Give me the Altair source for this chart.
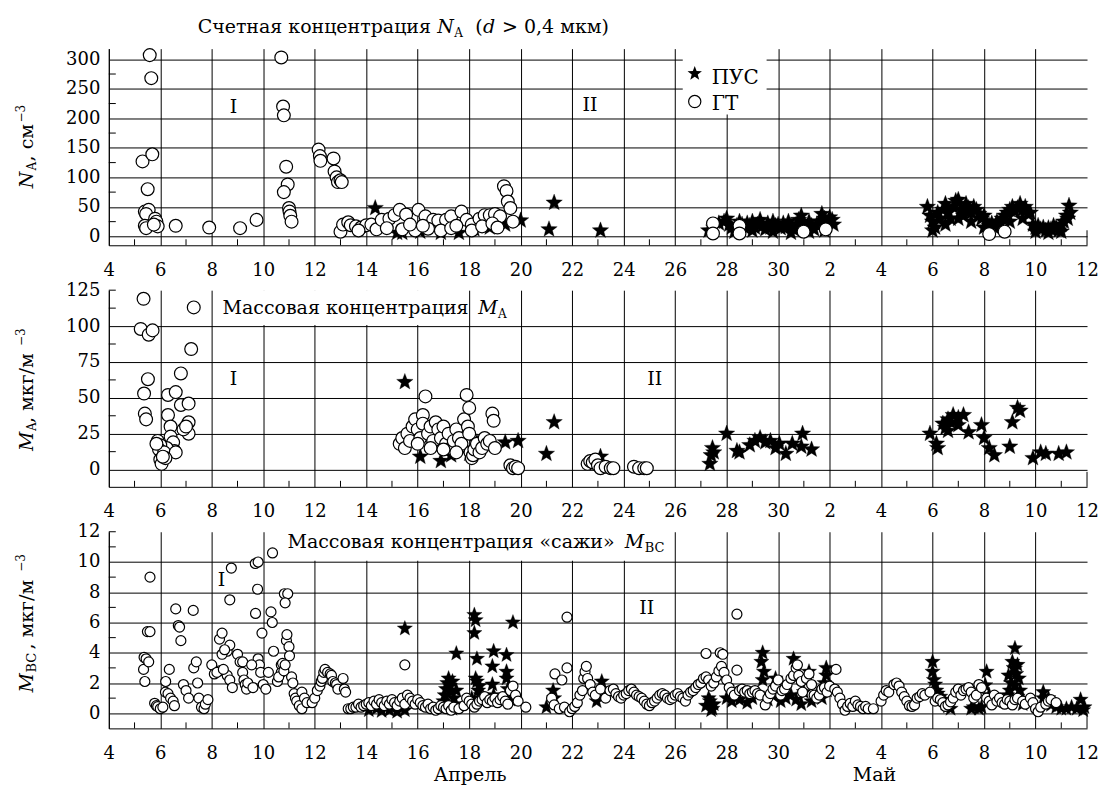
import altair as alt
import pandas as pd

FONT = "DejaVu Serif"
W, H = 980, 197
STAR = ("M0,-1L0.247,-0.34L0.951,-0.309L0.399,0.13L0.588,0.809L0,0.42"
        "L-0.588,0.809L-0.399,0.13L-0.951,-0.309L-0.247,-0.34Z")

# day numbering: April d -> d, May d -> 30 + d
x_major = list(range(4, 43, 2))
x_minor = list(range(5, 42, 2))

na_ticks = [0, 50, 100, 150, 200, 250, 300]
na_minor = [25, 75, 125, 175, 225, 275]
ma_ticks = [0, 25, 50, 75, 100, 125]
ma_minor = [12.5, 37.5, 62.5, 87.5, 112.5, 125]
bc_ticks = [0, 2, 4, 6, 8, 10, 12]
bc_minor = [1, 3, 5, 7, 9, 11, 12]

# ---- N_A (count concentration) ----
na_gt = [
    [5.31, 127], [5.59, 307], [5.65, 268], [5.69, 139], [5.51, 80], [5.4, 42], [5.55, 45],
    [5.45, 38], [5.4, 18], [5.45, 14], [5.8, 30], [5.85, 25], [5.9, 17], [5.75, 20],
    [6.6, 18], [7.9, 15], [9.1, 14], [9.74, 28], [10.7, 303], [10.77, 220], [10.8, 205],
    [10.89, 118], [10.95, 88], [10.8, 75], [11.0, 48], [11.02, 42], [11.05, 35], [11.1, 25],
    [12.15, 147], [12.2, 136], [12.22, 128], [12.73, 132], [12.77, 110], [12.85, 100],
    [12.9, 92], [13.0, 95], [13.05, 92],
    [13.0, 8], [13.1, 20], [13.3, 24], [13.4, 19], [13.6, 17], [13.8, 15], [14.0, 19],
    [14.2, 20], [14.4, 12], [14.6, 28], [14.9, 30], [15.1, 36], [15.3, 45], [15.55, 37],
    [16.03, 45], [16.3, 34], [16.6, 28], [16.8, 27], [17.1, 28], [17.3, 34], [17.7, 42],
    [17.9, 28], [18.1, 20], [18.4, 30], [18.6, 36], [18.8, 36], [19.0, 38], [19.2, 34],
    [19.35, 85], [19.45, 77], [19.5, 59], [19.6, 48], [19.7, 25],
    [15.4, 12], [15.9, 10], [16.4, 13], [16.9, 10], [17.3, 14], [18.1, 10], [18.5, 17],
    [13.7, 10], [14.8, 14], [15.7, 20], [16.2, 18], [17.5, 18], [18.9, 22], [19.1, 15],
    [27.47, 22], [27.47, 5], [28.5, 18], [28.5, 5], [30.99, 8], [31.85, 12],
    [38.2, 4], [38.8, 8],
]
na_pus = [
    [14.35, 48], [15.2, 6], [15.4, 6], [16.1, 8], [16.9, 6], [17.6, 6], [18.2, 12],
    [18.8, 15], [19.4, 20], [20.0, 27], [21.1, 12], [21.3, 57], [23.1, 10],
    [27.3, 10], [27.5, 15], [27.7, 22], [27.9, 25], [28.0, 30], [28.1, 20], [28.2, 15],
    [28.4, 18], [28.5, 25], [28.6, 20], [28.7, 15], [28.8, 22], [28.9, 18], [29.0, 25],
    [29.1, 15], [29.2, 20], [29.3, 28], [29.4, 18], [29.5, 12], [29.6, 22], [29.7, 15],
    [29.8, 25], [29.9, 18], [30.0, 20], [30.1, 14], [30.2, 22], [30.3, 16], [30.4, 25],
    [30.5, 18], [30.6, 12], [30.7, 20], [30.8, 28], [30.9, 35], [31.0, 22], [31.1, 15],
    [31.2, 25], [31.3, 18], [31.4, 12], [31.5, 20], [31.6, 25], [31.7, 38], [31.8, 30],
    [31.9, 22], [32.0, 32], [32.1, 28], [32.15, 20], [28.3, 8], [29.0, 10], [29.8, 8],
    [30.5, 6], [31.2, 8], [31.8, 10],
    [35.8, 50], [35.9, 35], [36.0, 25], [36.1, 15], [36.2, 40], [36.3, 30], [36.4, 45],
    [36.5, 55], [36.6, 40], [36.7, 30], [36.8, 50], [36.9, 60], [37.0, 62], [37.1, 45],
    [37.2, 35], [37.3, 55], [37.4, 48], [37.5, 40], [37.6, 50], [37.7, 45], [37.8, 38],
    [37.9, 30], [38.0, 35], [38.1, 25], [38.2, 18], [38.3, 22], [38.4, 15], [38.5, 25],
    [38.6, 20], [38.7, 30], [38.8, 35], [38.9, 40], [39.0, 45], [39.1, 50], [39.2, 42],
    [39.3, 48], [39.4, 55], [39.5, 45], [39.6, 50], [39.7, 38], [39.8, 40], [39.9, 20],
    [40.0, 15], [40.1, 18], [40.2, 12], [40.3, 15], [40.4, 10], [40.5, 14], [40.6, 12],
    [40.7, 18], [40.8, 15], [40.9, 10], [41.0, 20], [41.1, 25], [41.2, 35], [41.3, 52],
    [41.35, 40], [41.25, 30], [36.0, 10], [36.5, 20], [37.0, 30], [37.5, 25], [38.0, 15],
    [39.0, 25], [39.5, 30], [40.0, 8], [40.5, 6], [41.0, 8],
]

# ---- M_A (mass concentration) ----
ma_gt = [
    [5.35, 119], [5.24, 98], [5.55, 94], [5.7, 97], [7.3, 113], [7.2, 84], [5.52, 63],
    [5.37, 53], [5.4, 39], [5.45, 35], [6.8, 67], [6.3, 52], [6.6, 54], [6.3, 38],
    [6.8, 45], [7.1, 46], [7.1, 33], [7.1, 25], [6.4, 30], [6.4, 23], [6.5, 19],
    [6.55, 13], [6.25, 15], [5.9, 20], [6.0, 17], [5.95, 14], [6.0, 7], [6.05, 4],
    [6.15, 12], [6.6, 12], [6.9, 28], [7.0, 30], [6.2, 8], [5.85, 18], [6.1, 9],
    [15.3, 18], [15.4, 22], [15.5, 15], [15.6, 25], [15.7, 20], [15.8, 30], [15.9, 35],
    [16.0, 28], [16.1, 22], [16.2, 38], [16.3, 51], [16.2, 32], [16.4, 25], [16.5, 30],
    [16.6, 20], [16.7, 33], [16.8, 28], [16.9, 22], [17.0, 30], [17.1, 18], [17.2, 25],
    [17.3, 15], [17.4, 20], [17.5, 28], [17.6, 22], [17.7, 18], [17.8, 35], [17.9, 52],
    [18.0, 43], [17.95, 30], [18.0, 25], [18.05, 12], [18.1, 8], [18.15, 10], [18.2, 14],
    [18.3, 18], [18.4, 12], [18.5, 15], [18.6, 22], [18.7, 18], [18.8, 20], [18.9, 39],
    [18.95, 34], [19.0, 15], [17.5, 12], [16.5, 15], [17.0, 14], [16.0, 18],
    [19.6, 3], [19.7, 1], [19.8, 2], [19.9, 1],
    [22.6, 4], [22.7, 6], [22.8, 5], [22.9, 7], [23.0, 3], [23.1, 1], [23.3, 2],
    [23.5, 1], [23.6, 1], [24.4, 2], [24.6, 1], [24.8, 1], [24.9, 1],
]
ma_pus = [
    [15.5, 61], [16.1, 9], [16.9, 6], [17.3, 10], [18.0, 11], [18.3, 19], [19.4, 19],
    [19.9, 20], [21.0, 11], [21.3, 33], [23.1, 9], [27.35, 4], [27.4, 10], [27.45, 15],
    [27.5, 12], [28.0, 25], [28.4, 13], [28.5, 12], [28.9, 17], [29.1, 20], [29.3, 22],
    [29.5, 19], [29.7, 20], [29.9, 15], [30.05, 18], [30.3, 11], [30.55, 18], [30.95, 25],
    [30.9, 16], [31.3, 14], [35.9, 25], [36.15, 18], [36.2, 15], [36.4, 32], [36.6, 35],
    [36.8, 38], [37.0, 36], [37.2, 38], [36.6, 27], [37.0, 31], [37.4, 26], [37.9, 31],
    [38.0, 22], [38.2, 15], [38.4, 10], [39.0, 16], [39.1, 33], [39.3, 43], [39.4, 41],
    [39.9, 8], [40.2, 12], [40.4, 11], [40.9, 11], [41.2, 12], [36.5, 29], [36.7, 33],
]

# ---- M_BC (soot mass concentration) ----
bc_gt = [
    [5.37, 3.7], [5.45, 3.6], [5.35, 2.9], [5.4, 2.1], [5.55, 3.4], [5.5, 5.4], [5.6, 5.4],
    [5.6, 9.0], [5.78, 0.66], [5.85, 0.5], [5.9, 0.44], [6.0, 0.3], [6.1, 0.4], [6.21, 2.1],
    [6.35, 2.9], [6.2, 1.4], [6.3, 1.3], [6.4, 1.0], [6.5, 0.8], [6.55, 0.5], [6.6, 6.9],
    [6.7, 5.8], [6.75, 5.7], [6.8, 4.8], [6.9, 1.9], [7.0, 1.5], [7.1, 1.0], [7.28, 6.8],
    [7.3, 3.0], [7.4, 3.4], [7.45, 2.0], [7.5, 1.0], [7.6, 0.4], [7.7, 0.3], [7.75, 0.6],
    [7.85, 0.9], [8.0, 3.2], [8.1, 2.6], [8.3, 2.8], [8.3, 4.9], [8.4, 5.3], [8.6, 4.1],
    [8.7, 4.5], [8.76, 9.6], [8.7, 7.5], [8.6, 2.5], [8.7, 2.2], [8.8, 1.7], [9.0, 3.9],
    [9.1, 3.4], [9.2, 3.4], [9.2, 2.7], [9.25, 2.2], [9.3, 1.9], [9.35, 1.6], [9.69, 9.9],
    [9.8, 10.0], [9.78, 8.2], [9.7, 6.6], [9.8, 3.6], [9.85, 3.2], [9.9, 2.7], [9.95, 5.3],
    [10.0, 1.9], [10.1, 1.6], [10.36, 10.6], [10.3, 6.7], [10.35, 6.0], [10.2, 2.7],
    [10.4, 4.1], [10.55, 2.1], [10.7, 3.2], [10.75, 3.3], [10.7, 2.7], [10.82, 7.9],
    [10.95, 7.9], [10.85, 7.3], [10.9, 4.8], [10.92, 5.2], [11.0, 4.4], [11.02, 3.8],
    [11.1, 2.4], [11.15, 2.0], [11.2, 1.3], [11.25, 1.0], [11.3, 0.8], [11.4, 0.5],
    [11.5, 0.3], [11.5, 1.4], [11.6, 1.0], [11.7, 0.7], [11.9, 0.7], [12.0, 1.0],
    [12.1, 1.5], [12.2, 1.8], [12.25, 2.1], [12.3, 2.3], [12.35, 2.7], [12.4, 2.9],
    [12.5, 2.7], [12.6, 2.6], [12.65, 2.5], [12.7, 2.1], [12.8, 2.0], [12.85, 1.9],
    [12.9, 1.6], [13.1, 2.3], [13.15, 1.6], [13.2, 1.4], [13.3, 0.3], [13.4, 0.3],
    [13.5, 0.4], [13.6, 0.4], [13.7, 0.6], [13.8, 0.4], [13.9, 0.5], [14.0, 0.6],
    [14.1, 0.7], [14.2, 0.5], [14.3, 0.8], [8.2, 2.7], [8.4, 3.9], [8.5, 4.2], [8.45, 2.9],
    [9.4, 2.0], [9.6, 1.7], [9.55, 3.2], [10.6, 2.4], [10.8, 2.8], [10.85, 3.2],
    [14.4, 0.6], [14.5, 0.9], [14.6, 0.7], [14.7, 0.5], [14.8, 0.8], [14.9, 0.6],
    [15.0, 0.9], [15.1, 0.7], [15.2, 0.5], [15.3, 0.8], [15.4, 1.0], [15.5, 3.2],
    [15.5, 0.6], [15.6, 1.2], [15.7, 1.0], [15.8, 0.8], [15.9, 0.6], [16.0, 0.9],
    [16.1, 0.7], [16.2, 0.5], [16.3, 0.4], [16.4, 0.6], [16.5, 0.3], [16.6, 0.4],
    [16.7, 0.2], [16.8, 0.3], [16.9, 0.5], [17.0, 0.4], [17.1, 0.3], [17.2, 0.5],
    [17.3, 0.2], [17.4, 0.4], [17.6, 0.3], [17.8, 0.5], [17.9, 1.0], [18.0, 0.8],
    [18.1, 0.6], [18.2, 0.4], [18.3, 0.6], [18.4, 0.8], [18.5, 0.9], [18.6, 1.1],
    [18.7, 0.7], [18.8, 0.9], [18.9, 0.8], [19.0, 1.0], [19.1, 0.7], [19.2, 0.9],
    [19.3, 1.1], [19.4, 0.8], [19.5, 0.6], [19.6, 1.5], [19.7, 1.8], [19.8, 1.2],
    [19.9, 0.8], [20.2, 0.4],
    [21.2, 1.0], [21.3, 0.55], [21.33, 2.6], [21.5, 0.3], [21.6, 2.2], [21.7, 0.4],
    [21.8, 3.0], [21.8, 6.35], [21.9, 0.1], [22.0, 0.3], [22.1, 0.45], [22.2, 0.7],
    [22.3, 1.2], [22.4, 1.5], [22.45, 2.3], [22.5, 2.75], [22.55, 3.1], [22.6, 2.3],
    [22.7, 1.9], [22.8, 1.4], [22.9, 1.2], [23.1, 1.6], [23.3, 1.0], [23.47, 1.5],
    [23.6, 1.6], [23.7, 1.3], [23.8, 1.1], [23.9, 1.0], [24.0, 1.2], [24.1, 1.3],
    [24.2, 1.5], [24.3, 1.6], [24.4, 1.4], [24.5, 1.2], [24.6, 1.1], [24.7, 1.0],
    [24.8, 0.8], [24.9, 0.6], [25.0, 0.5], [25.1, 0.7], [25.2, 0.8], [25.3, 1.0],
    [25.4, 1.2], [25.5, 1.3], [25.6, 1.2], [25.7, 1.0], [25.8, 0.9], [25.9, 1.0],
    [26.0, 1.2], [26.1, 1.3], [26.2, 1.1], [26.3, 1.0], [26.4, 0.8], [26.5, 1.2],
    [26.6, 1.4], [26.7, 1.5], [26.8, 1.7], [26.9, 1.9], [27.0, 2.0],
    [27.1, 2.3], [27.2, 3.95], [27.2, 2.4], [27.3, 2.2], [27.4, 1.8], [27.5, 2.0],
    [27.6, 2.4], [27.7, 2.8], [27.75, 4.0], [27.85, 3.9], [27.8, 3.1], [27.9, 2.7],
    [28.0, 2.2], [28.1, 1.7], [28.2, 1.4], [28.3, 1.2], [28.4, 6.55], [28.4, 2.85],
    [28.5, 1.5], [28.6, 1.6], [28.7, 1.4], [28.8, 1.5], [28.9, 1.3], [29.0, 1.4],
    [29.1, 1.5], [29.2, 1.3], [29.3, 1.2], [29.5, 0.55], [29.6, 1.0], [29.7, 1.3],
    [29.8, 1.6], [29.9, 1.8], [30.0, 2.2], [30.1, 1.2], [30.15, 1.5], [30.25, 1.6],
    [30.35, 1.9], [30.5, 2.3], [30.6, 2.5], [30.7, 3.0], [30.75, 3.2], [30.8, 2.5],
    [30.9, 2.1], [30.95, 1.4], [31.1, 2.3], [31.2, 2.6], [31.3, 1.9], [31.4, 1.2],
    [31.5, 1.0], [31.6, 1.2], [31.7, 1.6], [31.8, 1.7], [31.9, 1.4], [32.0, 1.8],
    [32.25, 2.9],
    [32.2, 1.6], [32.3, 1.4], [32.4, 1.0], [32.5, 0.6], [32.6, 0.2], [32.7, 0.45],
    [32.8, 0.65], [32.9, 0.45], [33.0, 0.8], [33.1, 0.55], [33.2, 0.45], [33.3, 0.3],
    [33.4, 0.45], [33.5, 0.3], [33.7, 0.3], [34.0, 0.8], [34.1, 1.2], [34.2, 1.5],
    [34.3, 1.4], [34.5, 1.9], [34.6, 2.0], [34.7, 1.8], [34.8, 1.4], [34.9, 1.1],
    [35.0, 0.8], [35.1, 0.5], [35.2, 0.45], [35.3, 0.55], [35.4, 1.0], [35.5, 1.1],
    [35.6, 1.3], [35.7, 1.2], [35.9, 1.4], [36.1, 0.8], [36.2, 1.0], [36.3, 0.9],
    [36.4, 0.7], [36.5, 0.45], [36.6, 0.55], [36.7, 0.75], [36.8, 1.0], [36.9, 1.4],
    [37.0, 1.6], [37.1, 1.2], [37.2, 1.5], [37.3, 1.6], [37.4, 1.7], [37.5, 1.4],
    [37.6, 1.0], [37.7, 1.2], [37.8, 1.9], [37.9, 1.7], [38.1, 1.0], [38.2, 0.8],
    [38.3, 0.55], [38.4, 1.2], [38.5, 0.8], [38.6, 1.0], [38.7, 0.7], [38.8, 0.6],
    [38.9, 0.9], [39.0, 0.8], [39.1, 0.55], [39.2, 0.9], [39.3, 1.0], [39.5, 0.8],
    [39.6, 0.6], [39.8, 1.0], [39.9, 0.7], [40.0, 0.3], [40.1, 0.1], [40.2, 0.4],
    [40.4, 0.6], [40.5, 0.8], [40.6, 0.9], [40.8, 0.7],
]
bc_pus = [
    [14.1, 0.2], [14.4, 0.3], [14.6, 0.15], [14.9, 0.2], [15.2, 0.1], [15.5, 0.2],
    [15.5, 5.6], [15.3, 0.8],
    [17.0, 0.8], [17.05, 1.2], [17.1, 1.6], [17.15, 2.0], [17.2, 2.3], [17.25, 1.8],
    [17.3, 1.4], [17.35, 2.1], [17.4, 1.0], [17.45, 0.6], [17.5, 3.95], [17.2, 0.5],
    [17.35, 0.3], [17.5, 1.5],
    [18.2, 6.5], [18.25, 6.15], [18.2, 5.3], [18.3, 3.6], [18.3, 2.1], [18.25, 2.3],
    [18.1, 1.0], [18.35, 1.5], [18.4, 1.8], [18.45, 1.2], [18.2, 0.6],
    [18.95, 4.1], [18.9, 3.1], [18.9, 1.9], [18.95, 1.2],
    [19.45, 3.85], [19.45, 2.75], [19.45, 2.3], [19.5, 1.6], [19.4, 1.0], [19.7, 6.0],
    [19.6, 0.9],
    [21.26, 1.5], [21.0, 0.4], [21.3, 1.0], [23.15, 2.1], [22.95, 0.8], [23.1, 1.2],
    [27.2, 0.5], [27.3, 1.0], [27.4, 0.2], [27.5, 0.6], [27.35, 0.8], [27.45, 0.3],
    [28.0, 1.0], [28.2, 0.8], [28.5, 0.9], [28.8, 0.7], [29.0, 1.0], [29.4, 4.0],
    [29.35, 3.4], [29.45, 2.75], [29.4, 2.2], [29.2, 1.3], [29.6, 0.9], [29.9, 2.3],
    [29.8, 1.2], [30.1, 0.8], [30.3, 1.0], [30.6, 3.6], [30.5, 1.2], [30.7, 0.9],
    [30.9, 0.6], [31.2, 2.75], [31.0, 1.4], [31.3, 0.8], [31.5, 1.2], [31.87, 3.0],
    [31.87, 2.5], [31.8, 2.0], [31.9, 1.5], [31.7, 1.0],
    [36.0, 3.4], [36.0, 2.75], [36.05, 2.2], [36.1, 1.9], [36.15, 1.5], [36.2, 1.3],
    [36.3, 1.1], [36.4, 0.9], [36.5, 0.65], [36.6, 0.45], [36.7, 0.3], [37.5, 0.3],
    [37.6, 0.4], [37.8, 0.3], [37.9, 0.4], [38.1, 2.75], [38.05, 1.85], [38.2, 1.2],
    [38.3, 0.8], [39.2, 4.3], [39.1, 3.4], [39.2, 2.95], [38.95, 2.5], [39.35, 2.3],
    [39.2, 1.85], [39.0, 1.5], [39.4, 1.5], [39.3, 1.1], [39.1, 0.9], [39.5, 0.6],
    [39.05, 2.0], [39.25, 2.6], [39.15, 3.0], [39.3, 3.2], [38.9, 1.2],
    [40.3, 1.4], [40.3, 1.0], [40.5, 1.0], [40.6, 0.55], [40.8, 0.4], [41.0, 0.3],
    [41.2, 0.3], [41.4, 0.4], [41.75, 0.9], [41.6, 0.3], [41.9, 0.4], [41.85, 0.2],
]

ONE = pd.DataFrame({"k": [0]})


def df(pairs):
    return pd.DataFrame(pairs, columns=["day", "val"])


def T(s, x, y, size=19, style="normal", angle=0, align="left", baseline="alphabetic"):
    return alt.Chart(ONE).mark_text(
        text=s, font=FONT, fontSize=size, fontStyle=style, angle=angle,
        align=align, baseline=baseline, color="black"
    ).encode(x=alt.value(x), y=alt.value(y))


def box(x1, x2, y1, y2):
    return alt.Chart(ONE).mark_rect(color="white").encode(
        x=alt.value(x1), x2=alt.value(x2), y=alt.value(y1), y2=alt.value(y2))


def panel(stars, circles, ydom, yticks, yminor, gridmax, csize, ssize, extras, boxes):
    xenc = alt.X(
        "day:Q", scale=alt.Scale(domain=[4, 42], nice=False, zero=False),
        axis=alt.Axis(
            values=x_major, title=None, grid=True, ticks=False, labelPadding=16,
            labelExpr="datum.value > 30 ? '' + (datum.value - 30) : '' + datum.value",
            gridOpacity={"condition": {"test": "datum.value < 41", "value": 1}, "value": 0},
            labelFlush=False,
        ))
    yenc = alt.Y(
        "val:Q", scale=alt.Scale(domain=ydom, nice=False, zero=False),
        axis=alt.Axis(
            values=yticks, title=None, grid=True, ticks=False, labelPadding=9,
            gridOpacity={"condition": {"test": "datum.value <= %s" % gridmax, "value": 1}, "value": 0},
            labelFlush=False,
        ))
    layers = [box(*b) for b in boxes]
    layers.append(
        alt.Chart(pd.DataFrame({"day": x_minor})).mark_rule(color="black", strokeWidth=1)
        .encode(x=xenc, y=alt.value(H), y2=alt.value(H - 6)))
    layers.append(
        alt.Chart(pd.DataFrame({"day": [42]})).mark_rule(color="black", strokeWidth=1)
        .encode(x=xenc, y=alt.value(H), y2=alt.value(H - 15)))
    layers.append(
        alt.Chart(pd.DataFrame({"val": yminor})).mark_rule(color="black", strokeWidth=1)
        .encode(y=yenc, x=alt.value(0), x2=alt.value(7)))
    layers.append(
        alt.Chart(df(stars)).mark_point(
            shape=STAR, filled=True, color="black", size=ssize, opacity=1,
            stroke="black", strokeWidth=0.3)
        .encode(x=xenc, y=yenc))
    layers.append(
        alt.Chart(df(circles)).mark_point(
            shape="circle", filled=True, fill="white", stroke="black",
            strokeWidth=1.2, size=csize, opacity=1)
        .encode(x=xenc, y=yenc))
    layers += extras
    return alt.layer(*layers).properties(width=W, height=H)


# panel 1 extras
p1_extras = [
    alt.Chart(ONE).mark_rule(color="white").encode(
        x=alt.value(-108), x2=alt.value(-107), y=alt.value(-47), y2=alt.value(-46)),
    T("Счетная концентрация", 89, -16),
    T("N", 329, -16, style="italic"),
    T("A", 346, -12, size=12),
    T("(", 367, -16),
    T("d", 375, -16, style="italic"),
    T("> 0,4 мкм)", 394, -16),
    alt.Chart(ONE).mark_point(shape=STAR, filled=True, color="black", size=230, opacity=1)
    .encode(x=alt.value(587), y=alt.value(25)),
    T("ПУС", 604, 35, size=20),
    alt.Chart(ONE).mark_point(shape="circle", filled=True, fill="white", stroke="black",
                              strokeWidth=1.2, size=150, opacity=1)
    .encode(x=alt.value(587), y=alt.value(53)),
    T("ГТ", 604, 61, size=20),
    T("I", 125, 58, align="center", baseline="middle"),
    T("II", 482, 56, align="center", baseline="middle"),
    T("N", -76, 140, style="italic", angle=270),
    T("A", -73, 122, size=12, angle=270),
    T(", см", -76, 113, angle=270),
    T("−3", -84, 74, size=12, angle=270),
]
p2_extras = [
    T("Массовая концентрация", 114, 24),
    T("M", 370, 24, style="italic"),
    T("A", 390, 28, size=12),
    T("I", 125, 89, align="center", baseline="middle"),
    T("II", 547, 89, align="center", baseline="middle"),
    T("M", -76, 161, style="italic", angle=270),
    T("A", -73, 141, size=12, angle=270),
    T(", мкг/м", -76, 133, angle=270),
    T("−3", -84, 56, size=12, angle=270),
]
p3_extras = [
    T("Массовая концентрация «сажи»", 179, 16),
    T("M", 517, 16, style="italic"),
    T("BC", 537, 20, size=13),
    T("I", 113, 48, align="center", baseline="middle"),
    T("II", 539, 76, align="center", baseline="middle"),
    T("M", -76, 161, style="italic", angle=270),
    T("BC", -73, 141, size=13, angle=270),
    T(", мкг/м", -76, 118, angle=270),
    T("−3", -84, 40, size=12, angle=270),
    T("Апрель", 362, 250, align="center"),
    T("Май", 767, 250, align="center"),
]

p1 = panel(na_pus, na_gt, [-15, 318], na_ticks, na_minor, 300, 165, 300,
           p1_extras, [(575, 659, 0, 66)])
p2 = panel(ma_pus, ma_gt, [-12, 125], ma_ticks, ma_minor, 100, 165, 300,
           p2_extras, [(106, 354, 0, 35)])
p3 = panel(bc_pus, bc_gt, [-1, 12], bc_ticks, bc_minor, 10, 100, 260,
           p3_extras, [(172, 564, 0, 29)])

chart = alt.vconcat(p1, p2, p3, spacing=45, bounds="flush").properties(
    padding=0
).configure_view(stroke=None).configure_axis(
    labelFont=FONT, labelFontSize=18, labelColor="black",
    domainColor="black", domainWidth=1, gridColor="black", gridWidth=1,
)

chart.save("out.html", embed_options={"renderer": "svg", "actions": False})
